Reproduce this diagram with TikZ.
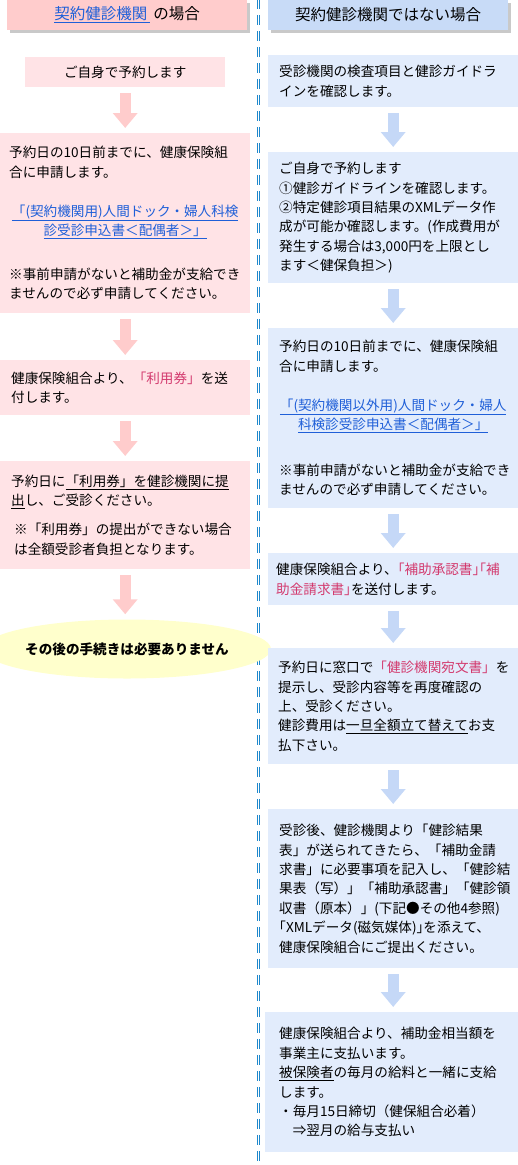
\documentclass[tikz,border=0pt]{standalone}
\usepackage{fontspec}
\setmainfont{Noto Sans CJK JP}
\usetikzlibrary{arrows.meta,shapes.geometric,shadows}
\definecolor{headpink}{HTML}{FFCCCC}
\definecolor{boxpink}{HTML}{FFE3E6}
\definecolor{arrowpink}{HTML}{FFCCCC}
\definecolor{headblue}{HTML}{C8DBF7}
\definecolor{boxblue}{HTML}{E2ECFC}
\definecolor{arrowblue}{HTML}{C5D8F7}
\definecolor{noteyellow}{HTML}{FFFFCC}
\definecolor{linkblue}{HTML}{1F5FD8}
\definecolor{markred}{HTML}{D33A6E}
\definecolor{divblue}{HTML}{1E88CC}

\begin{document}
\begin{tikzpicture}[x=1pt, y=-1pt, font=\fontsize{13.6pt}{19.4pt}\selectfont,
  headbox/.style={minimum width=240pt, minimum height=30pt, inner sep=0pt,
    font=\fontsize{15.5pt}{18pt}\selectfont,
    drop shadow={shadow xshift=3pt, shadow yshift=-3pt, fill=black!30, opacity=0.7}},
  stepbox/.style={anchor=north west, align=left, inner ysep=0pt},
  pinkbox/.style={stepbox, fill=boxpink, inner xsep=9pt, text width=232pt},
  bluebox/.style={stepbox, fill=boxblue, inner xsep=11pt, text width=228pt},
  pinkdown/.style={draw=arrowpink, line width=11pt, -{Triangle[width=24pt,length=15pt]},
    shorten <=6pt, shorten >=5pt},
  bluedown/.style={pinkdown, draw=arrowblue}]
  \useasboundingbox (0,0) rectangle (518,1165);

  \draw[divblue, line width=1pt, dash pattern=on 10pt off 6pt, dash phase=1pt] (257.2,0) -- (257.2,1165);
  \draw[divblue, line width=1pt, dash pattern=on 10pt off 6pt, dash phase=1pt] (259.5,0) -- (259.5,1165);

  \node[headbox, fill=headpink] (lhead) at (127,15)
    {\textcolor{linkblue}{\underline{契約健診機関\hspace{3pt}}}\hspace{3pt}の場合};
  \node[headbox, fill=headblue] (rhead) at (388,15) {契約健診機関ではない場合};

  \node[pinkbox, text width=182pt, align=center, minimum height=30pt] (l1) at (25,57) {ご自身で予約します};
  \node[pinkbox, minimum height=180pt] (l2) at (0,133)
    {予約日の10日前までに、健康保険組\\合に申請します。\\[19.4pt]
     \makebox[\linewidth]{\textcolor{linkblue}{\underline{「(契約機関用)人間ドック・婦人科検}}}\\
     \makebox[\linewidth]{\textcolor{linkblue}{\underline{診受診申込書＜配偶者＞」}}}\\[24.6pt]
     ※事前申請がないと補助金が支給でき\\ませんので必ず申請してください。};
  \node[pinkbox, inner xsep=11pt, text width=228pt, minimum height=55pt] (l3) at (0,360)
    {健康保険組合より、\textcolor{markred}{「利用券」}を送\\付します。};
  \node[pinkbox, inner xsep=11pt, text width=228pt, minimum height=108pt] (l4) at (0,461)
    {予約日に\underline{「利用券」を健診機関に提}\\\underline{出}し、ご受診ください。\\[9.6pt]
     \hspace*{3pt}※「利用券」の提出ができない場合\\\hspace*{3pt}は全額受診者負担となります。};
  \node[ellipse, fill=noteyellow, minimum width=250pt, minimum height=59pt, inner sep=0pt] (lend) at (127,649)
    {\bfseries その後の手続きは必要ありません};

  \node[bluebox, minimum height=52pt] (r1) at (268,55)
    {受診機関の検査項目と健診ガイドラ\\インを確認します。};
  \node[bluebox, minimum height=131pt] (r2) at (268,152)
    {ご自身で予約します\\①健診ガイドラインを確認します。\\②特定健診項目結果のXMLデータ作\\
     成が可能か確認します。(作成費用が\\発生する場合は3,000円を上限とし\\ます＜健保負担＞)};
  \node[bluebox, minimum height=180pt] (r3) at (268,328)
    {予約日の10日前までに、健康保険組\\合に申請します。\\[19.4pt]
     \makebox[\linewidth]{\textcolor{linkblue}{\underline{「(契約機関以外用)人間ドック・婦人}}}\\
     \makebox[\linewidth]{\textcolor{linkblue}{\underline{科検診受診申込書＜配偶者＞」}}}\\[26.6pt]
     ※事前申請がないと補助金が支給でき\\ませんので必ず申請してください。};
  \node[bluebox, inner xsep=8pt, text width=234pt, minimum height=52pt] (r4) at (268,553)
    {健康保険組合より、\textcolor{markred}{｢補助承認書｣｢補}\\\textcolor{markred}{助金請求書｣}を送付します。};
  \node[bluebox, inner xsep=10pt, text width=230pt, minimum height=116pt] (r5) at (268,648)
    {予約日に窓口で\textcolor{markred}{「健診機関宛文書」}を\\提示し、受診内容等を再度確認の\\
     上、受診ください。\\健診費用は\underline{一旦全額立て替えて}お支\\払下さい。};
  \node[bluebox, minimum height=159pt] (r6) at (268,809)
    {受診後、健診機関より「健診結果\\表」が送られてきたら、「補助金請\\求書」に必要事項を記入し、「健診結\\
     果表（写）」「補助承認書」「健診領\\収書（原本）」(下記●その他4参照)\\｢XMLデータ(磁気媒体)｣を添えて、\\
     健康保険組合にご提出ください。};
  \node[bluebox, inner xsep=14pt, text width=225pt, minimum height=140pt] (r7) at (265,1012)
    {健康保険組合より、補助金相当額を\\事業主に支払います。\\\underline{被保険者}の毎月の給料と一緒に支給\\
     します。\\・毎月15日締切（健保組合必着）\\\hspace*{1em}⇒翌月の給与支払い};

  \draw[pinkdown] (l1.south) -- (l2.north);
  \draw[pinkdown] (l2.south) -- (l3.north);
  \draw[pinkdown] (l3.south) -- (l4.north);
  \draw[pinkdown] (l4.south) -- (l4.south |- lend.north);

  \draw[bluedown] (r1.south) -- (r2.north);
  \draw[bluedown] (r2.south) -- (r3.north);
  \draw[bluedown] (r3.south) -- (r4.north);
  \draw[bluedown] (r4.south) -- (r5.north);
  \draw[bluedown] (r5.south) -- (r6.north);
  \draw[bluedown] (r6.south) -- (r6.south |- r7.north);
\end{tikzpicture}
\end{document}
